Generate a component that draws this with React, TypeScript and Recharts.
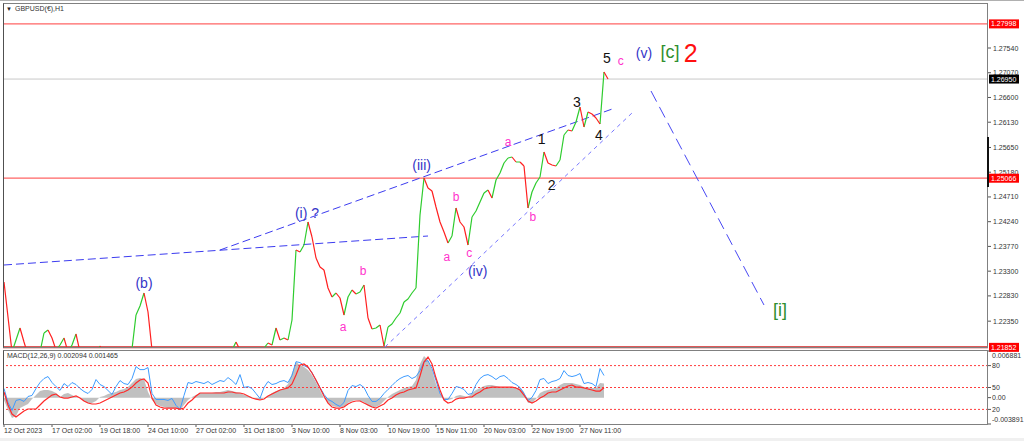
import {
  ComposedChart, Line, Area, Scatter, XAxis, YAxis, ReferenceLine,
} from 'recharts';

const FONT = '"Liberation Sans", Arial, sans-serif';

// x = time slot (about 5 hourly bars each); the visible window runs to slot 246
const X_DOMAIN: [number, number] = [-0.25, 246];
const PRICE_DOMAIN: [number, number] = [1.2184, 1.28376];

const TIME_TICKS = [0, 12, 24, 36, 48, 60, 72, 84, 96, 108, 120, 132, 144];
const TIME_LABELS = [
  '12 Oct 2023', '17 Oct 02:00', '19 Oct 18:00', '24 Oct 10:00', '27 Oct 02:00',
  '31 Oct 18:00', '3 Nov 10:00', '8 Nov 03:00', '10 Nov 19:00', '15 Nov 11:00',
  '20 Nov 03:00', '22 Nov 19:00', '27 Nov 11:00',
];

// GBPUSD H1 closes, one per slot
const PRICE = [
  1.23094, 1.22429, 1.21764, 1.21992, 1.2222, 1.21954, 1.21707, 1.21612, 1.2165, 1.21764,
  1.22125, 1.22182, 1.2203, 1.21802, 1.21897, 1.2203, 1.21764, 1.21897, 1.22106, 1.21764,
  1.21574, 1.21517, 1.21574, 1.21707, 1.21878, 1.21688, 1.21574, 1.21517, 1.21574, 1.21612,
  1.2165, 1.21707, 1.21821, 1.22467, 1.22638, 1.22885, 1.22524, 1.21802, 1.21574, 1.21422,
  1.21384, 1.21346, 1.21384, 1.21422, 1.2146, 1.21498, 1.21517, 1.21574, 1.21612, 1.2165,
  1.21688, 1.21688, 1.21707, 1.21726, 1.21764, 1.21764, 1.21764, 1.21802, 1.21954, 1.21802,
  1.21707, 1.21688, 1.21707, 1.21726, 1.21764, 1.2184, 1.21935, 1.21897, 1.2222, 1.21992,
  1.2203, 1.21992, 1.22372, 1.23702, 1.23664, 1.23797, 1.24234, 1.23949, 1.2355, 1.23379,
  1.23322, 1.2298, 1.22809, 1.22885, 1.2279, 1.22467, 1.22809, 1.22942, 1.22866, 1.22904,
  1.23037, 1.2241, 1.22201, 1.2222, 1.22277, 1.21878, 1.22239, 1.22296, 1.2241, 1.22505,
  1.22714, 1.22771, 1.22885, 1.2298, 1.24367, 1.2507, 1.2488, 1.24823, 1.24519, 1.24234,
  1.24044, 1.23835, 1.23968, 1.245, 1.24234, 1.24139, 1.23797, 1.24329, 1.24443, 1.24614,
  1.24785, 1.24842, 1.2469, 1.25032, 1.25165, 1.25355, 1.2545, 1.25469, 1.25374, 1.25374,
  1.25298, 1.245, 1.24804, 1.24975, 1.25089, 1.25564, 1.25355, 1.25317, 1.25298, 1.25412,
  1.25887, 1.25982, 1.25963, 1.26134, 1.26419, 1.26039, 1.26324, 1.26286, 1.2621, 1.26096,
  1.27084, 1.26951,
];

const PRICE_TICKS = [
  1.2754, 1.2707, 1.266, 1.2613, 1.2565, 1.2518, 1.2471, 1.2424, 1.2377, 1.233, 1.2283, 1.2235,
];
const RESISTANCE_LEVELS = [1.27998, 1.25066];
const SUPPORT_LEVEL = 1.21852;
const LAST_PRICE = 1.2695;
const PRICE_TAGS = [
  { value: 1.27998, bg: '#ff0000' },
  { value: 1.25066, bg: '#ff0000' },
  { value: 1.21852, bg: '#ff0000' },
  { value: 1.2695, bg: '#000000' },
];

// dashed trendlines drawn on the chart: [slot, price] end points
const TRENDLINES: [number, number][][] = [
  [[0, 1.23417], [106, 1.23968]],
  [[54, 1.23702], [152.75, 1.264]],
  [[95.25, 1.21859], [157, 1.26305]],
  [[161.75, 1.26723], [190, 1.22657]],
];
const TRENDLINE_STYLE = [
  { stroke: '#3c3cf0', dash: '8 4' },
  { stroke: '#3c3cf0', dash: '8 4' },
  { stroke: '#7777ff', dash: '4 4' },
  { stroke: '#4848f4', dash: '12 6' },
];

// Elliott wave labels
const WAVE_TEXT = ['(b)', '(i) ?', '(iii)', '(iv)', '(v)', '[c]', '2', '[i]',
  'a', 'b', 'a', 'b', 'c', 'a', 'b', 'c', '1', '2', '3', '4', '5'];
const WAVE_T = [35, 75.75, 104.4, 118.4, 160, 166.5, 171.7, 194,
  84.75, 89.75, 110.7, 113, 116.3, 126, 132.2, 154.2, 134.4, 136.9, 143.2, 148.75, 150.75];
const WAVE_V = [1.23081, 1.2441, 1.25317, 1.23303, 1.27445, 1.27464, 1.27451, 1.22562,
  1.22245, 1.23309, 1.23575, 1.24715, 1.23645, 1.2576, 1.24335, 1.27293,
  1.25805, 1.24937, 1.2652, 1.25887, 1.2735];
const WAVE_DEGREE = ['minor', 'minor', 'minor', 'minor', 'minor', 'intermediate', 'primary', 'intermediate',
  'minute', 'minute', 'minute', 'minute', 'minute', 'minute', 'minute', 'minute',
  'minuette', 'minuette', 'minuette', 'minuette', 'minuette'];
const DEGREE_STYLE: Record<string, { color: string; size: number }> = {
  minor: { color: '#3535c8', size: 14 },
  intermediate: { color: '#2f8f2f', size: 18 },
  primary: { color: '#ff1010', size: 25 },
  minute: { color: '#ff33cc', size: 12 },
  minuette: { color: '#111111', size: 14 },
};

// MACD(12,26,9) main, signal, and the overlaid oscillator (0..100)
const MACD_HIST = [
  -0.00035, -0.00183, -0.00301, -0.00272, -0.00154, -0.00124, -0.00094, -0.00021, 0.00038, 0.00097,
  0.00112, 0.00112, 0.00097, 0.00068, 0.00009, 0.00053, 0.00068, 0.00038, 0.00009, -0.00006,
  -0.0005, -0.0008, -0.0008, -0.0005, 0.00009, 0.00024, 0.00053, 0.00068, 0.00083, 0.00112,
  0.00127, 0.00156, 0.00215, 0.00275, 0.00289, 0.00275, 0.00083, -0.00035, -0.00094, -0.00124,
  -0.00139, -0.00154, -0.00154, -0.00154, -0.00183, -0.00109, -0.00035, 0.00009, 0.00038, 0.00068,
  0.00068, 0.00068, 0.00068, 0.00083, 0.00083, 0.00097, 0.00112, 0.00097, 0.00083, 0.00068,
  0.00038, 0.00024, 0.00009, -0.00021, -0.00035, -0.00006, 0.00024, 0.00068, 0.00097, 0.00112,
  0.00142, 0.00201, 0.00363, 0.00525, 0.00481, 0.00452, 0.00407, 0.00334, 0.0023, 0.00112,
  -0.00006, -0.0008, -0.00124, -0.00139, -0.00139, -0.00139, -0.0008, -0.0005, -0.00035, -0.0005,
  -0.00065, -0.00124, -0.00139, -0.00139, -0.00109, -0.0005, 0.00009, 0.00053, 0.00083, 0.00112,
  0.00142, 0.00156, 0.00171, 0.0026, 0.00496, 0.00614, 0.00555, 0.00407, 0.00201, 0.00068,
  -0.00021, -0.00035, -0.00021, 0.00024, 0.00038, 0.00024, 0.00009, 0.00068, 0.00112, 0.00142,
  0.00171, 0.00186, 0.00186, 0.00171, 0.00156, 0.00156, 0.00156, 0.00142, 0.00142, 0.00142,
  0.00083, -0.0008, -0.0008, -0.00021, 0.00068, 0.00097, 0.00112, 0.00127, 0.00142, 0.00186,
  0.00215, 0.00215, 0.00215, 0.00201, 0.00186, 0.00156, 0.00156, 0.00142, 0.00142, 0.00215,
  0.00209,
];
const MACD_SIGNAL = [
  0.00083, -0.00109, -0.00242, -0.00286, -0.00242, -0.00198, -0.00168, -0.00168, -0.00168, -0.00109,
  -0.0005, -0.00006, 0.00038, 0.00053, 0.00009, -0.00006, -0.00006, 0.00009, 0.00024, -0.00006,
  -0.0005, -0.0008, -0.00094, -0.00094, -0.0008, -0.0005, -0.00021, 0.00009, 0.00038, 0.00068,
  0.00083, 0.00112, 0.00156, 0.00215, 0.0026, 0.00275, 0.00215, -0.00006, -0.00109, -0.00139,
  -0.00154, -0.00154, -0.00154, -0.00154, -0.00168, -0.00154, -0.0008, -0.00035, 0.00024, 0.00068,
  0.00068, 0.00068, 0.00068, 0.00068, 0.00068, 0.00068, 0.00083, 0.00083, 0.00068, 0.00068,
  0.00053, 0.00024, -0.00006, -0.00021, -0.00035, -0.00021, 0.00024, 0.00053, 0.00083, 0.00112,
  0.00127, 0.00142, 0.00201, 0.00334, 0.00481, 0.00496, 0.00452, 0.00363, 0.0026, 0.00142,
  0.00024, -0.0008, -0.00139, -0.00154, -0.00154, -0.00139, -0.00094, -0.00065, -0.0005, -0.0005,
  -0.0008, -0.00109, -0.00139, -0.00154, -0.00124, -0.00094, -0.00035, -0.00006, 0.00038, 0.00068,
  0.00083, 0.00112, 0.00127, 0.00142, 0.00319, 0.00525, 0.00599, 0.00496, 0.00289, 0.00112,
  -0.00035, -0.0008, -0.00065, -0.00021, -0.00006, -0.00006, 0.00009, 0.00009, 0.00053, 0.00083,
  0.00127, 0.00142, 0.00156, 0.00156, 0.00156, 0.00156, 0.00156, 0.00156, 0.00142, 0.00112,
  0.00038, -0.0005, -0.0008, -0.0005, -0.00006, 0.00024, 0.00068, 0.00083, 0.00083, 0.00112,
  0.00142, 0.00171, 0.00186, 0.00156, 0.00156, 0.00142, 0.00127, 0.00112, 0.00097, 0.00097,
  0.00147,
];
const OSC = [
  48.6, 29.5, 18.6, 32.3, 33.6, 30.9, 37.7, 39.1, 48.6, 56.8,
  62.3, 65.0, 56.8, 51.3, 45.9, 55.4, 51.3, 56.8, 54.1, 48.6,
  44.5, 41.8, 47.3, 60.9, 54.1, 51.3, 45.9, 40.5, 51.3, 59.5,
  55.4, 54.1, 62.3, 78.6, 74.5, 74.5, 77.3, 41.8, 33.6, 33.6,
  33.6, 32.3, 35.0, 25.5, 20.0, 39.1, 56.8, 55.4, 58.2, 56.8,
  55.4, 58.2, 54.1, 56.8, 59.5, 58.2, 63.6, 59.5, 54.1, 67.7,
  50.0, 51.3, 48.6, 41.8, 35.0, 50.0, 58.2, 54.1, 55.4, 58.2,
  59.5, 56.8, 66.4, 85.4, 84.1, 80.0, 77.3, 70.4, 59.5, 50.0,
  40.5, 33.6, 30.9, 26.8, 24.1, 29.5, 45.9, 52.7, 51.3, 54.1,
  50.0, 39.1, 30.9, 30.9, 35.0, 41.8, 47.3, 52.7, 58.2, 62.3,
  65.0, 66.4, 62.3, 65.0, 73.2, 85.4, 86.8, 75.9, 59.5, 41.8,
  33.6, 33.6, 41.8, 51.3, 50.0, 47.3, 40.5, 41.8, 54.1, 62.3,
  66.4, 67.7, 65.0, 60.9, 65.0, 66.4, 62.3, 56.8, 54.1, 50.0,
  41.8, 32.3, 36.4, 45.9, 60.9, 62.3, 55.4, 58.2, 59.5, 62.3,
  73.2, 66.4, 65.0, 66.4, 69.1, 55.4, 56.8, 55.4, 51.3, 75.9,
  66.4,
];
const MACD_DOMAIN: [number, number] = [-0.003891, 0.006881];
const OSC_LEVELS = [80, 50, 20];
const OSC_TICKS = [100, 80, 50, 36.12, 20, 0];
const OSC_TICK_LABELS = ['0.006881', '80', '50', '0.00', '20', '-0.003891'];

// split the close series into rising and falling pieces (green / red like the candles)
function buildSegments(rising: boolean) {
  const pts: { t: number; v: number | null }[] = [];
  for (let i = 1; i < PRICE.length; i++) {
    if ((PRICE[i] >= PRICE[i - 1]) !== rising) continue;
    pts.push({ t: i - 1, v: PRICE[i - 1] }, { t: i, v: PRICE[i] }, { t: i, v: null });
  }
  return pts;
}
const upSegments = buildSegments(true);
const downSegments = buildSegments(false);

const waveLabels = WAVE_TEXT.map((text, i) => ({
  t: WAVE_T[i], v: WAVE_V[i], text, ...DEGREE_STYLE[WAVE_DEGREE[i]],
}));

const macdRows = MACD_HIST.map((h, i) => ({ t: i, hist: h, sig: MACD_SIGNAL[i], osc: OSC[i] }));

function PriceTick({ x, y, payload }: any) {
  const v: number = payload.value;
  const tag = PRICE_TAGS.find((p) => Math.abs(p.value - v) < 1e-6);
  const label = v.toFixed(5);
  if (tag) {
    return (
      <g>
        <rect x={x + 1} y={y - 4.5} width={30} height={9} fill={tag.bg} />
        <text x={x + 3} y={y + 2.5} fontSize={7} fill="#fff" fontFamily={FONT}>{label}</text>
      </g>
    );
  }
  return (
    <g>
      <line x1={x} x2={x + 3} y1={y} y2={y} stroke="#555" />
      <text x={x + 5} y={y + 2.5} fontSize={7} fill="#333" fontFamily={FONT}>{label}</text>
    </g>
  );
}

function OscTick({ x, y, payload }: any) {
  const idx = OSC_TICKS.indexOf(payload.value);
  const dy = payload.value === 100 ? 4 : payload.value === 0 ? -4.5 : 0;
  return (
    <g>
      <line x1={x} x2={x + 3} y1={y} y2={y} stroke="#555" />
      <text x={x + 4} y={y + 2.5 + dy} fontSize={7} fill="#333" fontFamily={FONT}>
        {OSC_TICK_LABELS[idx]}
      </text>
    </g>
  );
}

function TimeTick({ x, y, payload }: any) {
  const idx = TIME_TICKS.indexOf(payload.value);
  return (
    <g>
      <line x1={x} x2={x} y1={y} y2={y + 3} stroke="#555" />
      <text x={x} y={y + 9} fontSize={7} fill="#333" fontFamily={FONT}>{TIME_LABELS[idx]}</text>
    </g>
  );
}

function WaveText({ cx, cy, payload }: any) {
  return (
    <text x={cx} y={cy} textAnchor="middle" dominantBaseline="central"
      fontSize={payload.size} fill={payload.color} fontFamily={FONT}>
      {payload.text}
    </text>
  );
}

const abs = (style: React.CSSProperties): React.CSSProperties => ({ position: 'absolute', ...style });

export default function App() {
  return (
    <div style={{ position: 'fixed', left: 0, top: 0, width: 1024, height: 441, background: '#fff', overflow: 'hidden', fontFamily: FONT }}>
      <div style={abs({ left: 0, top: 0, width: 1024, height: 1, background: '#b0b0b0' })} />
      <div style={abs({ left: 0, top: 438, width: 1024, height: 3, background: '#f0f0f0' })} />

      <div style={abs({ left: 0, top: 0 })}>
        <ComposedChart width={1024} height={352} margin={{ top: 4, right: 0, bottom: 4, left: 3 }}>
          <XAxis type="number" dataKey="t" domain={X_DOMAIN} allowDataOverflow hide />
          <YAxis
            orientation="right" width={36} domain={PRICE_DOMAIN} allowDataOverflow
            ticks={[...PRICE_TICKS, ...PRICE_TAGS.map((p) => p.value)]} interval={0}
            tick={<PriceTick />} axisLine={false} tickLine={false} tickSize={0} tickMargin={0}
          />
          <ReferenceLine y={LAST_PRICE} stroke="#c8c8c8" />
          {RESISTANCE_LEVELS.map((lvl) => (
            <ReferenceLine key={lvl} y={lvl} stroke="#ff6464" strokeWidth={1.2} />
          ))}
          <ReferenceLine y={SUPPORT_LEVEL} stroke="#d42020" strokeWidth={2} />
          {TRENDLINES.map((seg, i) => (
            <ReferenceLine
              key={i} ifOverflow="visible"
              segment={[{ x: seg[0][0], y: seg[0][1] }, { x: seg[1][0], y: seg[1][1] }]}
              stroke={TRENDLINE_STYLE[i].stroke} strokeDasharray={TRENDLINE_STYLE[i].dash}
            />
          ))}
          <Line data={upSegments} dataKey="v" stroke="#2ecc2e" strokeWidth={1.2} dot={false} isAnimationActive={false} />
          <Line data={downSegments} dataKey="v" stroke="#ff2020" strokeWidth={1.2} dot={false} isAnimationActive={false} />
          <Scatter data={waveLabels} dataKey="v" shape={<WaveText />} isAnimationActive={false} />
        </ComposedChart>
      </div>

      <div style={abs({ left: 0, top: 350 })}>
        <ComposedChart width={1024} height={91} data={macdRows} margin={{ top: 1, right: 0, bottom: 0, left: 3 }}>
          <XAxis
            type="number" dataKey="t" domain={X_DOMAIN} allowDataOverflow height={17}
            ticks={TIME_TICKS} interval={0} tick={<TimeTick />}
            axisLine={false} tickLine={false} tickSize={0} tickMargin={0}
          />
          <YAxis
            yAxisId="osc" orientation="right" width={36} domain={[0, 100]}
            ticks={OSC_TICKS} interval={0} tick={<OscTick />}
            axisLine={false} tickLine={false} tickSize={0} tickMargin={0}
          />
          <YAxis yAxisId="macd" domain={MACD_DOMAIN} hide />
          <Area yAxisId="macd" type="linear" dataKey="hist" fill="#c0c0c0" fillOpacity={1} stroke="none" isAnimationActive={false} />
          {OSC_LEVELS.map((lvl) => (
            <ReferenceLine key={lvl} yAxisId="osc" y={lvl} stroke="#ff3c3c" strokeDasharray="2 2" />
          ))}
          <Line yAxisId="osc" dataKey="osc" stroke="#3d9bff" strokeWidth={1} dot={false} isAnimationActive={false} />
          <Line yAxisId="macd" dataKey="sig" stroke="#ff2a2a" strokeWidth={1.2} dot={false} isAnimationActive={false} />
        </ComposedChart>
      </div>

      {/* panel frames */}
      <div style={abs({ left: 3, top: 3, width: 985, height: 345, border: '1px solid #808080', borderLeftColor: '#505050', boxSizing: 'border-box', pointerEvents: 'none' })} />
      <div style={abs({ left: 3, top: 350, width: 985, height: 75, border: '1px solid #808080', borderLeftColor: '#505050', boxSizing: 'border-box', pointerEvents: 'none' })} />
      <div style={abs({ left: 987, top: 137, width: 2, height: 50, background: '#111' })} />

      <div style={abs({ left: 6, top: 5, fontSize: 6, color: '#222', lineHeight: '8px' })}>▼</div>
      <div style={abs({ left: 15, top: 5, fontSize: 7, color: '#333', lineHeight: '8px' })}>GBPUSD(€),H1</div>
      <div style={abs({ left: 7, top: 352, fontSize: 7, color: '#333', lineHeight: '8px' })}>MACD(12,26,9) 0.002094 0.001465</div>
    </div>
  );
}
